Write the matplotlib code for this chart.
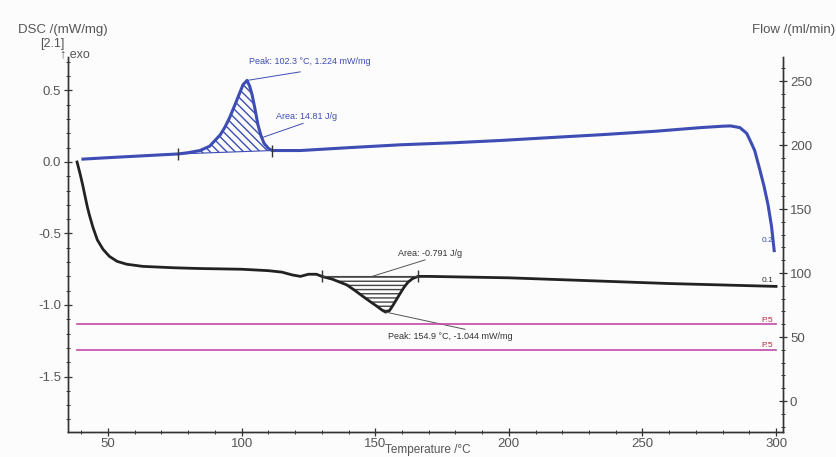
import numpy as np
import matplotlib.pyplot as plt
from matplotlib.ticker import MultipleLocator

plt.rcParams['font.family'] = ['Liberation Sans', 'DejaVu Sans']
plt.rcParams['axes.unicode_minus'] = False

#DSC heating curve (blue)
T_blue = [40.6, 50, 60, 70, 76.2, 80, 84.4, 88, 90, 92, 93.8, 95.5, 97.5, 99, 100.5, 102.0,
          103, 103.9, 105, 106.1, 107.3, 108.4, 110, 111.4, 115, 122, 140, 159.3, 180, 196.7,
          215, 234, 255, 271.6, 280, 283, 286.5, 289, 290.3, 292, 294, 295.5, 297, 298.3, 299.3]
dsc_blue = [0.02, 0.03, 0.04, 0.05, 0.056, 0.065, 0.08, 0.11, 0.15, 0.19, 0.245, 0.31, 0.40, 0.47,
            0.54, 0.57, 0.53, 0.47, 0.37, 0.26, 0.18, 0.13, 0.095, 0.08, 0.08, 0.08, 0.10, 0.12,
            0.135, 0.15, 0.17, 0.19, 0.215, 0.24, 0.25, 0.252, 0.24, 0.20, 0.15, 0.08, -0.06,
            -0.17, -0.30, -0.45, -0.62]

#DSC curve (black)
T_black = [38.4, 39.5, 40.5, 41.4, 42.2, 43, 44.4, 46, 48.1, 50.5, 53.4, 57, 63, 75, 84.4, 100,
           110, 115, 119, 122, 125, 128, 130, 134, 139.4, 142.5, 145.4, 148, 150.7, 152.5, 153.9,
           155.3, 156.7, 158, 159.3, 160.8, 162.3, 164, 166, 170, 185, 200, 230, 260, 280, 300]
dsc_black = [0.0, -0.08, -0.16, -0.24, -0.31, -0.37, -0.46, -0.545, -0.61, -0.66, -0.695, -0.715,
             -0.73, -0.74, -0.745, -0.75, -0.76, -0.77, -0.79, -0.80, -0.785, -0.785, -0.80, -0.82,
             -0.86, -0.90, -0.94, -0.975, -1.01, -1.035, -1.05, -1.04, -1.00, -0.96, -0.92, -0.875,
             -0.84, -0.815, -0.80, -0.80, -0.805, -0.81, -0.83, -0.85, -0.86, -0.87]

#purge gas flows (ml/min)
T_flow = [38.4, 300]
flow_1 = [60, 60]
flow_2 = [40, 40]

#integration limits
blue_lim = [76.2, 111.4]
black_lim = [130, 166]

c_blue = '#3d4db3'
c_black = '#222222'
c_flow = '#c24aa6'
c_lab = '#b22a3e'
c_txt = '#555555'

fig = plt.figure(figsize=(8.37, 4.57), dpi=100, facecolor='#fcfcfc')
ax1 = fig.add_axes([0.0812, 0.0547, 0.8543, 0.8206])
ax1.set_facecolor('#fcfcfc')
ax2 = ax1.twinx()

ax1.plot(T_blue, dsc_blue, color=c_blue, lw=2.2)
ax1.plot(T_black, dsc_black, color=c_black, lw=2.0)
ax2.plot(T_flow, flow_1, color=c_flow, lw=1.2)
ax2.plot(T_flow, flow_2, color=c_flow, lw=1.2)

#hatched peak areas with straight baselines
Tb = np.array(T_blue)
yb = np.array(dsc_blue)
m = (Tb >= blue_lim[0]) & (Tb <= blue_lim[1])
base_b = np.interp(Tb[m], blue_lim, [np.interp(blue_lim[0], Tb, yb), np.interp(blue_lim[1], Tb, yb)])
ax1.fill_between(Tb[m], yb[m], base_b, facecolor='none', edgecolor=c_blue, hatch='\\\\\\\\', lw=0)
ax1.plot(blue_lim, base_b[[0, -1]], color=c_blue, lw=0.8)
ax1.plot(blue_lim, base_b[[0, -1]], ls='none', marker='|', ms=9, mew=1, color='#333333')

Tk = np.array(T_black)
yk = np.array(dsc_black)
m = (Tk >= black_lim[0]) & (Tk <= black_lim[1])
base_k = np.interp(Tk[m], black_lim, [np.interp(black_lim[0], Tk, yk), np.interp(black_lim[1], Tk, yk)])
ax1.fill_between(Tk[m], yk[m], base_k, facecolor='none', edgecolor='#444444', hatch='----', lw=0)
ax1.plot(black_lim, base_k[[0, -1]], color='#444444', lw=0.8)
ax1.plot(black_lim, base_k[[0, -1]], ls='none', marker='|', ms=9, mew=1, color='#333333')

#annotations
fs = 6.5
ax1.plot([102.0, 121.9], [0.57, 0.63], color=c_blue, lw=0.7)
ax1.text(102.6, 0.70, 'Peak: 102.3 °C, 1.224 mW/mg', color=c_blue, fontsize=fs, va='center')
ax1.plot([107.6, 123.0], [0.17, 0.27], color=c_blue, lw=0.7)
ax1.text(112.9, 0.32, 'Area: 14.81 J/g', color=c_blue, fontsize=fs, va='center')
ax1.plot([148.8, 168.6], [-0.80, -0.685], color='#555555', lw=0.7)
ax1.text(158.5, -0.64, 'Area: -0.791 J/g', color='#333333', fontsize=fs, va='center')
ax1.plot([154.0, 183.6], [-1.05, -1.17], color='#555555', lw=0.7)
ax1.text(154.8, -1.22, 'Peak: 154.9 °C, -1.044 mW/mg', color='#333333', fontsize=fs, va='center')

#curve labels at the right end
ax1.text(299, -0.55, '0.2', color=c_blue, fontsize=6, ha='right', va='center')
ax1.text(299, -0.83, '0.1', color='#333333', fontsize=6, ha='right', va='center')
ax2.text(299, 63, 'P.5', color=c_lab, fontsize=6, ha='right', va='center')
ax2.text(299, 43, 'P.5', color=c_lab, fontsize=6, ha='right', va='center')

ax1.set_xlim(35, 302.6)
ax1.set_ylim(-1.888, 0.734)
ax2.set_ylim(-24.2, 268.8)

ax1.xaxis.set_major_locator(MultipleLocator(50))
ax1.xaxis.set_minor_locator(MultipleLocator(10))
ax1.yaxis.set_major_locator(MultipleLocator(0.5))
ax1.yaxis.set_minor_locator(MultipleLocator(0.1))
ax2.yaxis.set_major_locator(MultipleLocator(50))
ax2.yaxis.set_minor_locator(MultipleLocator(10))

for ax in (ax1, ax2):
    ax.spines['top'].set_visible(False)
    for s in ax.spines.values():
        s.set_color('#333333')
        s.set_linewidth(1.0)
    ax.tick_params(which='major', direction='inout', length=6, width=0.9, colors='#333333',
                   labelcolor=c_txt, labelsize=9.5, pad=2)
    ax.tick_params(which='minor', direction='inout', length=3.5, width=0.7, colors='#333333')
ax1.tick_params(axis='x', which='major', labelsize=9.5, pad=1)

fig.text(18/837, 1 - 30/457, 'DSC /(mW/mg)', color=c_txt, fontsize=9.5, va='center')
fig.text(835/837, 1 - 30/457, 'Flow /(ml/min)', color=c_txt, fontsize=9.5, va='center', ha='right')
fig.text(40/837, 1 - 44/457, '[2.1]', color=c_txt, fontsize=9, va='center')
fig.text(60/837, 1 - 54/457, '↑ exo', color=c_txt, fontsize=9, va='center')
fig.text(428/837, 1.0/457, 'Temperature /°C', color=c_txt, fontsize=8.5, va='bottom', ha='center')

fig.savefig('out.png', dpi=100, facecolor=fig.get_facecolor())
